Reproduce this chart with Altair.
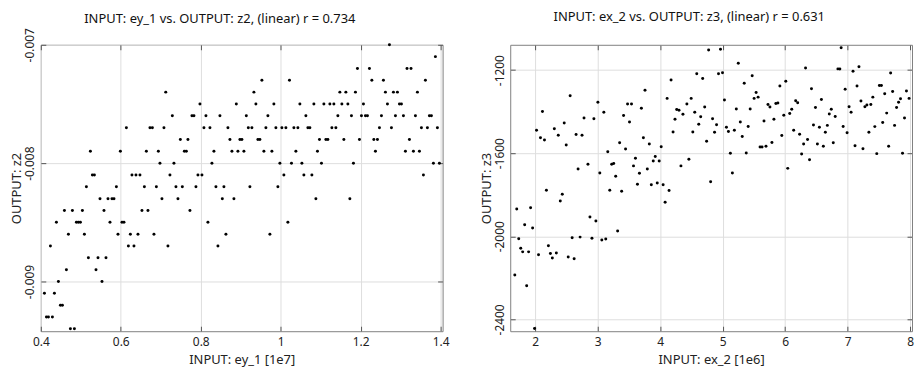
import altair as alt
import pandas as pd

# ---------------- Left panel: INPUT ey_1 [1e7] vs OUTPUT z2 ----------------
z2_levels = [-0.0070, -0.0071, -0.0072, -0.0073, -0.0074, -0.0075, -0.0076,
             -0.0077, -0.0078, -0.0079, -0.0080, -0.0081, -0.0082, -0.0083,
             -0.0084, -0.0085, -0.0086, -0.0087, -0.0088, -0.0089, -0.0090,
             -0.0091, -0.0092, -0.0093, -0.0094]
ey1_at_level = [
    [1.272],
    [1.387],
    [1.192, 1.222, 1.316, 1.326],
    [0.953, 1.022, 1.228, 1.257, 1.362],
    [0.7125, 0.933, 1.148, 1.163, 1.187, 1.262, 1.282, 1.292, 1.342],
    [0.798, 0.889, 0.938, 0.983, 1.048, 1.083, 1.108, 1.123, 1.133, 1.153,
     1.168, 1.207, 1.267, 1.297, 1.302],
    [0.729, 0.778, 0.783, 0.813, 0.848, 0.914, 0.968, 1.063, 1.143, 1.177,
     1.202, 1.212, 1.217, 1.252, 1.287, 1.307, 1.337, 1.372, 1.377],
    [0.614, 0.673, 0.679, 0.708, 0.808, 0.823, 0.868, 0.919, 0.928, 0.963,
     0.988, 1.003, 1.013, 1.033, 1.043, 1.068, 1.073, 1.128, 1.138, 1.247,
     1.277, 1.352, 1.367, 1.392],
    [0.749, 0.768, 0.873, 0.898, 0.903, 0.943, 0.948, 1.097, 1.113, 1.118,
     1.158, 1.197, 1.233, 1.242, 1.322],
    [0.524, 0.599, 0.664, 0.694, 0.759, 0.764, 0.833, 0.878, 0.893, 0.908,
     0.958, 0.978, 1.038, 1.092, 1.237, 1.312, 1.332, 1.347],
    [0.698, 0.733, 0.828, 0.998, 1.027, 1.053, 1.102, 1.182, 1.382, 1.397],
    [0.529, 0.534, 0.628, 0.638, 0.648, 0.723, 0.793, 0.803, 1.008, 1.058,
     1.078, 1.357],
    [0.514, 0.589, 0.659, 0.689, 0.738, 0.754, 0.788, 0.838, 0.858, 0.923,
     0.993],
    [0.548, 0.568, 0.578, 0.583, 0.703, 0.743, 0.854, 0.883, 1.088, 1.173],
    [0.459, 0.479, 0.504, 0.558, 0.653, 0.668, 0.773],
    [0.439, 0.489, 0.494, 0.499, 0.573, 0.603, 0.608, 0.818, 1.018],
    [0.469, 0.509, 0.593, 0.624, 0.643, 0.683, 0.863, 0.973],
    [0.424, 0.619, 0.633, 0.718, 0.843],
    [0.519, 0.543, 0.563],
    [0.464, 0.538],
    [0.444, 0.553],
    [0.409, 0.434],
    [0.449, 0.454],
    [0.414, 0.419, 0.429],
    [0.474, 0.484],
]

# ---------------- Right panel: INPUT ex_2 [1e6] vs OUTPUT z3 ----------------
ex_2 = [
    4.174, 3.757, 2.559, 4.111, 4.496, 3.003, 3.478, 3.541, 4.427, 3.699,
    4.264, 4.301, 2.116, 3.098, 4.364, 3.414, 2.781, 2.939, 4.237, 3.509,
    2.464, 2.306, 2.021, 4.206, 4.522, 2.654, 2.749, 2.369, 2.084, 3.731,
    2.148, 3.351, 3.826, 2.496, 4.016, 3.446, 3.161, 3.921, 3.604, 3.889,
    3.984, 4.459, 2.686, 3.794, 3.573, 2.844, 3.256, 3.224, 4.332, 3.034,
    3.668, 3.288, 3.636, 3.858, 3.953, 4.047, 4.142, 3.383, 3.193, 2.179,
    2.433, 2.401, 4.079, 1.704, 1.926, 2.876, 1.831, 1.958, 2.971, 3.319,
    1.736, 2.591, 2.718, 2.908, 3.066, 3.129, 1.768, 2.211, 1.799, 1.894,
    2.053, 2.243, 2.274, 2.338, 2.528, 2.623, 1.673, 1.863, 1.989, 4.775,
    4.965, 5.250, 6.896, 4.585, 4.680, 4.933, 4.997, 6.326, 6.844, 6.875,
    7.086, 7.181, 7.688, 5.472, 5.345, 5.915, 6.010, 6.421, 6.960, 7.150,
    7.508, 7.540, 7.593, 7.720, 7.941, 5.535, 5.567, 5.503, 5.028, 4.712,
    5.218, 5.725, 5.756, 5.851, 5.883, 6.168, 6.200, 6.105, 5.978, 6.073,
    6.485, 6.580, 6.738, 6.706, 6.801, 7.023, 7.055, 7.213, 7.276, 7.308,
    7.371, 7.403, 7.625, 7.783, 7.815, 7.846, 7.910, 7.983, 4.553, 4.648,
    4.838, 5.282, 5.440, 5.661, 5.820, 4.617, 4.902, 5.060, 5.092, 5.187,
    5.408, 6.136, 6.231, 6.453, 6.548, 6.643, 6.675, 6.928, 6.991, 7.340,
    7.435, 7.561, 7.751, 4.870, 4.743, 5.313, 5.598, 5.630, 5.693, 5.788,
    5.946, 6.295, 6.358, 6.516, 6.611, 6.770, 7.118, 7.245, 7.656, 5.377,
    5.123, 6.263, 7.466, 7.878, 6.390, 6.041, 5.155, 4.807,
]
z3 = [
    -1247, -1297, -1323, -1336, -1336, -1355, -1363, -1363, -1363, -1384,
    -1390, -1393, -1399, -1403, -1412, -1418, -1431, -1434, -1437, -1450,
    -1455, -1482, -1490, -1498, -1498, -1510, -1513, -1513, -1526, -1526,
    -1536, -1550, -1556, -1561, -1569, -1580, -1593, -1616, -1624, -1637,
    -1637, -1629, -1676, -1676, -1661, -1653, -1650, -1653, -1661, -1695,
    -1697, -1711, -1749, -1752, -1743, -1752, -1779, -1783, -1778, -1778,
    -1798, -1830, -1836, -1869, -1863, -1907, -1944, -1960, -1926, -1975,
    -2012, -2007, -2004, -2009, -2018, -2013, -2058, -2045, -2075, -2075,
    -2089, -2083, -2104, -2081, -2100, -2108, -2186, -2238, -2444, -1103,
    -1100, -1167, -1092, -1217, -1240, -1217, -1213, -1190, -1194, -1195,
    -1205, -1184, -1214, -1227, -1263, -1276, -1254, -1290, -1292, -1276,
    -1274, -1274, -1314, -1303, -1301, -1308, -1330, -1336, -1344, -1377,
    -1387, -1365, -1377, -1361, -1358, -1347, -1357, -1388, -1417, -1409,
    -1380, -1341, -1388, -1411, -1423, -1376, -1403, -1349, -1376, -1368,
    -1366, -1330, -1407, -1380, -1355, -1338, -1430, -1336, -1403, -1425,
    -1434, -1450, -1387, -1445, -1436, -1461, -1463, -1475, -1496, -1490,
    -1471, -1490, -1509, -1464, -1475, -1499, -1466, -1471, -1502, -1499,
    -1472, -1452, -1466, -1499, -1542, -1520, -1570, -1570, -1567, -1548,
    -1515, -1556, -1534, -1556, -1567, -1550, -1564, -1578, -1566, -1599,
    -1600, -1604, -1602, -1600, -1632, -1673, -1695, -1737,
]

# ---------------- ticks / texts ----------------
left_xticks = [0.4, 0.6, 0.8, 1, 1.2, 1.4]
left_yticks = [-0.009, -0.008, -0.007]
left_xdomain = [0.4, 1.405]
left_ydomain = [-0.00942, -0.007]
right_xticks = [2, 3, 4, 5, 6, 7, 8]
right_yticks = [-2400, -2000, -1600, -1200]
right_xdomain = [1.6, 8.03]
right_ydomain = [-2457, -1078]

left_title = "INPUT: ey_1 vs. OUTPUT: z2, (linear) r = 0.734"
right_title = "INPUT: ex_2 vs. OUTPUT: z3, (linear) r = 0.631"

FONT = "Noto Sans"

left_rows = []
for lvl, xs in zip(z2_levels, ey1_at_level):
    for xv in xs:
        left_rows.append({"x": xv, "y": lvl})
left_df = pd.DataFrame(left_rows)
right_df = pd.DataFrame({"x": ex_2, "y": z3})


def panel(df, xdom, ydom, xticks, yticks, xtitle, ytitle, title, w, h, toff):
    xs = alt.Scale(domain=xdom, nice=False, zero=False)
    ys = alt.Scale(domain=ydom, nice=False, zero=False)
    main = alt.Chart(df).mark_circle(size=9, color="black", opacity=1).encode(
        x=alt.X("x:Q", scale=xs, axis=alt.Axis(
            orient="bottom", values=xticks, ticks=False, domain=False,
            grid=True, gridColor="#dedede", gridWidth=1,
            labelExpr="'' + datum.value", labelFlush=False, labelPadding=5,
            labelFont=FONT, labelFontSize=12, labelColor="#222",
            title=xtitle, titleFont=FONT, titleFontSize=13,
            titleFontWeight="normal", titleColor="#222", titlePadding=6)),
        y=alt.Y("y:Q", scale=ys, axis=alt.Axis(
            orient="left", values=yticks, ticks=False, domain=False,
            grid=True, gridColor="#dedede", gridWidth=1,
            labelExpr="'' + datum.value", labelFlush=False, labelPadding=4,
            labelAngle=270, labelAlign="center", labelBaseline="bottom",
            labelFont=FONT, labelFontSize=12, labelColor="#222",
            title=ytitle, titleFont=FONT, titleFontSize=13,
            titleFontWeight="normal", titleColor="#222", titlePadding=0)),
    )

    def tick_layer(xo, yo):
        return alt.Chart(df).mark_point(opacity=0).encode(
            x=alt.X("x:Q", scale=xs, axis=alt.Axis(
                orient=xo, offset=-5, values=xticks, labels=False, domain=False,
                grid=False, ticks=True, tickSize=5, tickColor="#555",
                tickWidth=1, title=None)),
            y=alt.Y("y:Q", scale=ys, axis=alt.Axis(
                orient=yo, offset=-5, values=yticks, labels=False, domain=False,
                grid=False, ticks=True, tickSize=5, tickColor="#555",
                tickWidth=1, title=None)),
        )

    return alt.layer(main, tick_layer("bottom", "left"), tick_layer("top", "right")).resolve_axis(
        x="independent", y="independent"
    ).properties(
        width=w, height=h,
        title=alt.TitleParams(title, font=FONT, fontSize=13, fontWeight="normal",
                              color="#111", anchor="middle", frame="group",
                              dx=-22, offset=toff),
    )


left = panel(left_df, left_xdomain, left_ydomain, left_xticks, left_yticks,
             "INPUT: ey_1 [1e7]", "OUTPUT: z2", left_title, 404, 288, 2)
right = panel(right_df, right_xdomain, right_ydomain, right_xticks, right_yticks,
              "INPUT: ex_2 [1e6]", "OUTPUT: z3", right_title, 404, 288, 20)

chart = alt.hconcat(left, right, spacing=30).properties(
    padding={"left": 2, "top": 2, "right": 0, "bottom": 0}
).configure_view(stroke="#808080", strokeWidth=1)

chart.save("out.html", embed_options={"renderer": "svg", "actions": False})
